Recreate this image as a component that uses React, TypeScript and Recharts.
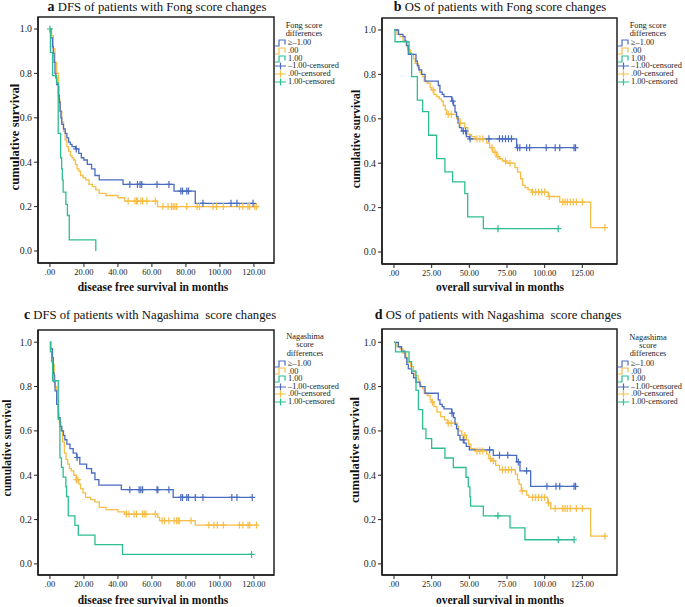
import React from 'react';
import { ComposedChart, Line, Scatter, XAxis, YAxis, ReferenceArea } from 'recharts';

const BLUE = '#4a6cc0';
const YELLOW = '#f6bd47';
const GREEN = '#2dbd92';
const INK = '#222';
const FONT = '"Liberation Serif", "Times New Roman", serif';

const dfsTicks = [0, 20, 40, 60, 80, 100, 120];
const osTicks = [0, 25, 50, 75, 100, 125];
const survTicks = [0, 0.2, 0.4, 0.6, 0.8, 1.0];
const legendLabels = ['≥–1.00', '.00', '1.00', '–1.00-censored', '.00-censored', '1.00-censored'];

// a: DFS, Fong
const aBlueT = [0.5, 1.5, 2, 2.5, 3, 3.5, 4, 5, 5.5, 6, 6.5, 7, 8, 9, 10, 11, 12, 13, 15, 17, 18.5, 20, 22, 24.5, 26.5, 29, 43, 73, 85.5];
const aBlueS = [0.96, 0.92, 0.89, 0.85, 0.8, 0.78, 0.75, 0.7, 0.67, 0.63, 0.6, 0.57, 0.55, 0.53, 0.51, 0.49, 0.48, 0.47, 0.46, 0.44, 0.42, 0.41, 0.39, 0.37, 0.34, 0.32, 0.3, 0.27, 0.215];
const aBlueC = [15.5, 47, 51.5, 53, 54, 63, 70, 77, 78, 80.5, 81.5, 90, 106.5, 110, 119.5];
const aYellowT = [1, 2, 3, 4, 5, 5.5, 6, 7, 8, 9, 10, 11, 12, 13, 14, 15, 16, 17, 18, 19.5, 21, 23, 25, 27, 29, 33, 40, 44, 63.3];
const aYellowS = [0.97, 0.91, 0.85, 0.8, 0.74, 0.68, 0.63, 0.58, 0.54, 0.5, 0.47, 0.45, 0.43, 0.42, 0.41, 0.39, 0.37, 0.36, 0.34, 0.33, 0.32, 0.3, 0.29, 0.275, 0.26, 0.25, 0.24, 0.225, 0.2];
const aYellowC = [46, 50, 51, 51.5, 53.5, 54.5, 57, 62, 66.5, 69.5, 71.5, 72.5, 73.5, 74.5, 80.5, 86.5, 88, 96, 98, 102, 111.5, 113.5, 116.5, 117.5, 120.5, 121.5];
const aGreenT = [0.3, 1.6, 3.9, 4.9, 6.3, 6.9, 7.3, 7.8, 9.4, 10.3, 11.4, 27];
const aGreenS = [0.895, 0.79, 0.757, 0.53, 0.42, 0.37, 0.32, 0.265, 0.21, 0.16, 0.05, 0];
const aGreenC = [0];

// b: OS, Fong
const bBlueT = [3, 6, 7.3, 8.5, 9.5, 14.6, 15.5, 16.5, 18.4, 20.6, 29.4, 30.5, 32, 33.2, 38.3, 39.5, 40.5, 41.5, 42.5, 43.4, 45, 48, 50, 81.4];
const bBlueS = [0.98, 0.97, 0.95, 0.93, 0.89, 0.86, 0.84, 0.82, 0.8, 0.77, 0.75, 0.72, 0.71, 0.7, 0.68, 0.66, 0.63, 0.61, 0.58, 0.56, 0.545, 0.52, 0.51, 0.47];
const bBlueC = [39, 46, 47.5, 50.5, 63, 70, 72, 74, 76, 78, 82, 83.5, 88, 90, 101, 107, 110, 119.5, 120.5];
const bYellowT = [2, 4, 6, 8, 9, 11, 13, 14, 16, 17, 18, 19, 20, 22, 24, 25, 26.5, 28.3, 30, 31.5, 32.7, 34, 35, 41.6, 43.8, 47, 49, 51.5, 53.8, 61.5, 63.5, 65.5, 68, 70, 72, 74.8, 80.3, 82, 84, 85.4, 87, 89, 91.4, 102.4, 110, 130.5];
const bYellowS = [0.98, 0.97, 0.95, 0.93, 0.91, 0.89, 0.87, 0.85, 0.83, 0.81, 0.8, 0.79, 0.77, 0.76, 0.74, 0.73, 0.71, 0.7, 0.69, 0.68, 0.66, 0.64, 0.62, 0.6, 0.58, 0.56, 0.53, 0.52, 0.51, 0.49, 0.47, 0.45, 0.43, 0.42, 0.41, 0.4, 0.38, 0.36, 0.33, 0.3, 0.29, 0.28, 0.27, 0.25, 0.225, 0.11];
const bYellowC = [26, 36, 38, 44, 55, 57, 59, 65, 67, 69, 74, 77, 92, 94, 96, 98, 100, 103, 112, 113.5, 115, 117, 119, 121, 125, 140];
const bGreenT = [0.7, 10, 11.7, 15.5, 19, 23, 28.3, 33.8, 38.9, 47, 48.9, 59.3];
const bGreenS = [0.947, 0.895, 0.79, 0.684, 0.632, 0.526, 0.421, 0.361, 0.316, 0.263, 0.158, 0.105];
const bGreenC = [69, 109];

// c: DFS, Nagashima
const cBlueT = [0.5, 1.5, 2, 2.5, 3, 4, 5, 6, 7, 8, 8.8, 10, 11.8, 13.7, 15.7, 17.6, 21.6, 24.5, 26.5, 28.8, 42, 72.5];
const cBlueS = [0.97, 0.93, 0.86, 0.82, 0.78, 0.72, 0.66, 0.62, 0.6, 0.58, 0.56, 0.54, 0.52, 0.5, 0.48, 0.45, 0.43, 0.41, 0.38, 0.355, 0.335, 0.3];
const cBlueC = [16, 47, 52.5, 53.5, 54.5, 63, 63.5, 70, 77, 78, 80.5, 81.5, 85.5, 90, 107, 110, 119];
const cYellowT = [0.3, 1.5, 2.5, 3, 4, 5, 5.5, 6.5, 7.5, 8.5, 9.5, 10.5, 11.5, 12.5, 14, 15.5, 17, 18, 19.5, 21, 24, 26.5, 29, 33, 40, 44, 63.5, 64.5, 85.5];
const cYellowS = [0.97, 0.9, 0.85, 0.8, 0.74, 0.68, 0.64, 0.6, 0.55, 0.5, 0.47, 0.45, 0.43, 0.42, 0.4, 0.38, 0.36, 0.34, 0.32, 0.3, 0.29, 0.28, 0.255, 0.245, 0.235, 0.225, 0.21, 0.195, 0.175];
const cYellowC = [15.5, 16.5, 45, 46.5, 49.5, 51, 54.5, 55.5, 56.5, 62, 66, 67.5, 70, 73, 74.5, 75.5, 76, 83, 93.5, 96.5, 98.5, 102, 111.5, 113.5, 116.5, 117.5, 121.5];
const cGreenT = [0.3, 1, 1.6, 4.9, 5.9, 6.8, 7.8, 9.4, 9.8, 10.8, 14.7, 16.7, 26.5, 42.7];
const cGreenS = [0.957, 0.913, 0.826, 0.652, 0.478, 0.435, 0.391, 0.348, 0.304, 0.217, 0.174, 0.13, 0.087, 0.043];
const cGreenC = [118.6];

// d: OS, Nagashima
const dBlueT = [2.9, 5, 7.3, 8.5, 9.5, 11.7, 13, 14.6, 17.3, 20.6, 29.4, 30.5, 32, 33.2, 38.3, 39.5, 40.5, 41.5, 42.5, 43.8, 46.5, 48, 50, 65.9, 81.4, 83.6, 90.7];
const dBlueS = [0.98, 0.96, 0.93, 0.9, 0.88, 0.86, 0.84, 0.82, 0.8, 0.77, 0.74, 0.72, 0.71, 0.7, 0.68, 0.66, 0.63, 0.61, 0.58, 0.56, 0.545, 0.53, 0.515, 0.49, 0.46, 0.42, 0.35];
const dBlueC = [38.5, 46, 63.5, 70, 75.5, 82.5, 88, 101.5, 107.5, 110, 119.5, 120.5];
const dYellowT = [2, 4, 6, 8, 9, 11, 13, 14, 16, 17, 18, 19, 20, 22, 24, 25, 26.5, 28.5, 31, 33.5, 35.5, 42, 43, 45, 48, 49.5, 51, 53.5, 61.5, 63, 65, 67.5, 70, 80.5, 82, 83, 84.5, 88, 89.5, 102, 104, 130.5];
const dYellowS = [0.98, 0.97, 0.95, 0.93, 0.91, 0.89, 0.87, 0.85, 0.83, 0.81, 0.8, 0.79, 0.77, 0.76, 0.74, 0.73, 0.71, 0.685, 0.665, 0.65, 0.635, 0.62, 0.6, 0.58, 0.56, 0.54, 0.52, 0.51, 0.495, 0.475, 0.465, 0.445, 0.425, 0.405, 0.38, 0.36, 0.33, 0.31, 0.3, 0.275, 0.25, 0.125];
const dYellowC = [25.5, 36, 38, 47, 55, 57, 59, 64, 66, 72, 74, 76, 78, 85, 92, 94, 96, 98, 100, 102.5, 107, 112, 113.5, 115, 117, 121, 125, 140];
const dGreenT = [1, 10, 11.7, 14.6, 16.2, 19, 21.2, 25, 33.8, 39.4, 47.8, 49.3, 50.4, 50.8, 59.3, 77, 86.9];
const dGreenS = [0.957, 0.913, 0.87, 0.783, 0.696, 0.609, 0.565, 0.522, 0.478, 0.435, 0.391, 0.348, 0.304, 0.261, 0.217, 0.163, 0.109];
const dGreenC = [69, 109, 119.5];

type Row = { t: number; s: number };
type Curve = { t: number[]; s: number[]; c: number[]; color: string };

const survAt = (t: number[], s: number[], x: number) => {
  let v = 1;
  t.forEach((e, i) => {
    if (e <= x) v = s[i];
  });
  return v;
};

const steps = (cv: Curve): Row[] => {
  const rows: Row[] = [{ t: 0, s: 1 }];
  cv.t.forEach((x, i) => rows.push({ t: x, s: cv.s[i] }));
  const end = Math.max(...cv.c, cv.t[cv.t.length - 1]);
  const last = rows[rows.length - 1];
  if (end > last.t) rows.push({ t: end, s: last.s });
  return rows;
};

const censored = (cv: Curve): Row[] => cv.c.map((x) => ({ t: x, s: survAt(cv.t, cv.s, x) }));

const cross = (color: string) => (props: any) => {
  const { cx, cy } = props;
  return (
    <path
      d={`M${cx - 3},${cy}H${cx + 3}M${cx},${cy - 3.5}V${cy + 3.5}`}
      stroke={color}
      strokeWidth={1.2}
      fill="none"
    />
  );
};

const fmtX = (v: number) => (v === 0 ? '.00' : v.toFixed(2));
const fmtY = (v: number) => v.toFixed(1);

type PanelProps = {
  left: number;
  top: number;
  width: number;
  height: number;
  marginTop: number;
  yAxisWidth: number;
  xAxisHeight: number;
  xDomain: [number, number];
  yDomain: [number, number];
  xTicks: number[];
  curves: Curve[];
};

const Panel = (p: PanelProps) => (
  <div style={{ position: 'absolute', left: p.left, top: p.top }}>
    <ComposedChart
      width={p.width}
      height={p.height}
      margin={{ top: p.marginTop, right: 68, left: 0, bottom: 0 }}
    >
      <XAxis
        type="number"
        dataKey="t"
        domain={p.xDomain}
        ticks={p.xTicks}
        allowDataOverflow
        tickFormatter={fmtX}
        tick={{ fontSize: 8.5, fill: INK, fontFamily: FONT }}
        tickLine={{ stroke: INK }}
        axisLine={{ stroke: INK, strokeWidth: 1.5 }}
        tickSize={4}
        height={p.xAxisHeight}
      />
      <YAxis
        type="number"
        domain={p.yDomain}
        ticks={survTicks}
        allowDataOverflow
        tickFormatter={fmtY}
        tick={{ fontSize: 9.8, fill: INK, fontFamily: FONT }}
        tickLine={{ stroke: INK }}
        axisLine={{ stroke: INK, strokeWidth: 1.5 }}
        tickSize={4}
        width={p.yAxisWidth}
      />
      <ReferenceArea
        x1={p.xDomain[0]}
        x2={p.xDomain[1]}
        y1={p.yDomain[0]}
        y2={p.yDomain[1]}
        fill="none"
        stroke={INK}
        strokeWidth={1.5}
        strokeOpacity={1}
      />
      {p.curves.map((cv, i) => (
        <Line
          key={`l${i}`}
          data={steps(cv)}
          dataKey="s"
          type="stepAfter"
          stroke={cv.color}
          strokeWidth={1.3}
          dot={false}
          isAnimationActive={false}
        />
      ))}
      {p.curves.map((cv, i) => (
        <Scatter
          key={`c${i}`}
          data={censored(cv)}
          dataKey="s"
          shape={cross(cv.color)}
          isAnimationActive={false}
        />
      ))}
    </ComposedChart>
  </div>
);

const legendColors = [BLUE, YELLOW, GREEN, BLUE, YELLOW, GREEN];

const Legend = ({ x, headCx, headTop, heading, itemTop, headGap, gap }: {
  x: number; headCx: number; headTop: number; heading: string[]; itemTop: number; headGap: number; gap: number;
}) => (
  <>
    {heading.map((h, i) => (
      <div
        key={h}
        style={{
          position: 'absolute', left: headCx - 40, width: 80, top: headTop + i * headGap, height: headGap,
          textAlign: 'center', fontSize: 8.3, lineHeight: `${headGap}px`, fontFamily: FONT, color: INK,
        }}
      >
        {h}
      </div>
    ))}
    {legendLabels.map((lab, i) => (
      <div
        key={lab}
        style={{
          position: 'absolute', left: x, top: itemTop + i * gap, height: gap, display: 'flex',
          alignItems: 'center', fontSize: 8.3, lineHeight: `${gap}px`, fontFamily: FONT, color: INK, whiteSpace: 'nowrap',
        }}
      >
        <svg width={12} height={8} style={{ marginRight: 1 }}>
          {i < 3 ? (
            <path d="M0,7H4V1H10V5.5" stroke={legendColors[i]} strokeWidth={1.2} fill="none" />
          ) : (
            <path d="M0,4H11M5.5,0.5V7.5" stroke={legendColors[i]} strokeWidth={1.2} fill="none" />
          )}
        </svg>
        {lab}
      </div>
    ))}
  </>
);

const Title = ({ letter, text, cx, top }: { letter: string; text: string; cx: number; top: number }) => (
  <div
    style={{
      position: 'absolute', left: cx - 170, width: 340, top, height: 13, textAlign: 'center',
      fontFamily: FONT, fontSize: 12.7, lineHeight: '13px', color: '#111', whiteSpace: 'pre',
    }}
  >
    <b style={{ fontSize: 14 }}>{letter}</b> {text}
  </div>
);

const XLabel = ({ text, cx, cy }: { text: string; cx: number; cy: number }) => (
  <div
    style={{
      position: 'absolute', left: cx - 120, width: 240, top: cy - 6, height: 12, textAlign: 'center',
      fontFamily: FONT, fontSize: 11.5, fontWeight: 'bold', lineHeight: '12px', color: '#111',
    }}
  >
    {text}
  </div>
);

const YLabel = ({ text, cx, cy, size }: { text: string; cx: number; cy: number; size: number }) => (
  <div
    style={{
      position: 'absolute', left: cx - 70, width: 140, top: cy - 7, height: 14, textAlign: 'center',
      fontFamily: FONT, fontSize: size, fontWeight: 'bold', lineHeight: '14px', color: '#111',
      transform: 'rotate(-90deg)',
    }}
  >
    {text}
  </div>
);

const mk = (t: number[][], s: number[][], c: number[][]): Curve[] =>
  [YELLOW, BLUE, GREEN].map((color, i) => ({ t: t[i], s: s[i], c: c[i], color }));

const curvesA = mk([aYellowT, aBlueT, aGreenT], [aYellowS, aBlueS, aGreenS], [aYellowC, aBlueC, aGreenC]);
const curvesB = mk([bYellowT, bBlueT, bGreenT], [bYellowS, bBlueS, bGreenS], [bYellowC, bBlueC, bGreenC]);
const curvesC = mk([cYellowT, cBlueT, cGreenT], [cYellowS, cBlueS, cGreenS], [cYellowC, cBlueC, cGreenC]);
const curvesD = mk([dYellowT, dBlueT, dGreenT], [dYellowS, dBlueS, dGreenS], [dYellowC, dBlueC, dGreenC]);

export default function App() {
  return (
    <div style={{ position: 'absolute', left: 0, top: 0, width: 685, height: 607, background: '#fff', overflow: 'hidden' }}>
      <Panel left={0} top={0} width={342} height={300} marginTop={17} yAxisWidth={38} xAxisHeight={37}
        xDomain={[-7, 131.8]} yDomain={[-0.054, 1.054]} xTicks={dfsTicks} curves={curvesA} />
      <Panel left={342} top={0} width={343} height={300} marginTop={18} yAxisWidth={40} xAxisHeight={36}
        xDomain={[-7.96, 148]} yDomain={[-0.054, 1.054]} xTicks={osTicks} curves={curvesB} />
      <Panel left={0} top={300} width={342} height={307} marginTop={30} yAxisWidth={38} xAxisHeight={32}
        xDomain={[-7, 131.8]} yDomain={[-0.05, 1.055]} xTicks={dfsTicks} curves={curvesC} />
      <Panel left={342} top={300} width={343} height={307} marginTop={29} yAxisWidth={40} xAxisHeight={32}
        xDomain={[-7.96, 148]} yDomain={[-0.05, 1.06]} xTicks={osTicks} curves={curvesD} />

      <Title letter="a" text="DFS of patients with Fong score changes" cx={157} top={0} />
      <Title letter="b" text="OS of patients with Fong score changes" cx={500} top={0} />
      <Title letter="c" text="DFS of patients with Nagashima  score changes" cx={150} top={308} />
      <Title letter="d" text="OS of patients with Nagashima  score changes" cx={498} top={308} />

      <YLabel text="cumulative survival" cx={15} cy={137} size={12.7} />
      <YLabel text="cumulative survival" cx={357} cy={139} size={11.7} />
      <YLabel text="cumulative survival" cx={7} cy={448} size={11.5} />
      <YLabel text="cumulative survival" cx={355} cy={450} size={12.6} />

      <XLabel text="disease free survival in months" cx={153} cy={287} />
      <XLabel text="overall survival in months" cx={500} cy={287} />
      <XLabel text="disease free survival in months" cx={153} cy={600} />
      <XLabel text="overall survival in months" cx={500} cy={600} />

      <Legend x={275} headCx={304} headTop={22} heading={['Fong score', 'differences']} headGap={8.2} itemTop={39} gap={7.8} />
      <Legend x={618} headCx={648} headTop={22} heading={['Fong score', 'differences']} headGap={8.2} itemTop={39} gap={7.8} />
      <Legend x={275} headCx={305} headTop={333} heading={['Nagashima', 'score', 'differences']} headGap={8.3} itemTop={360} gap={7.6} />
      <Legend x={618} headCx={648} headTop={334} heading={['Nagashima', 'score', 'differences']} headGap={8.2} itemTop={360} gap={7.6} />
    </div>
  );
}
